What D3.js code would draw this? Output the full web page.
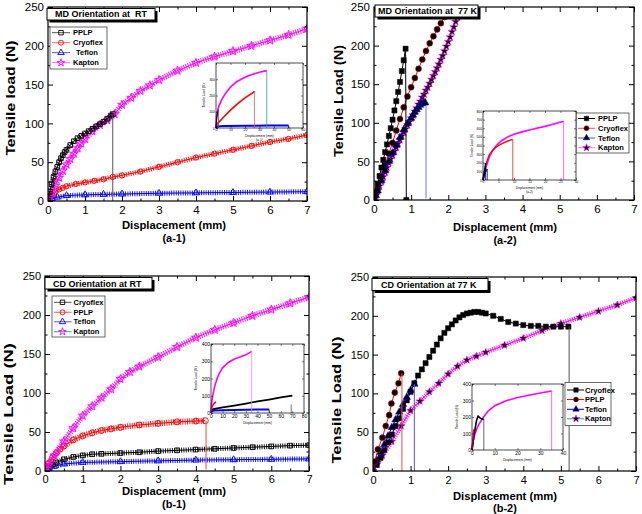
<!DOCTYPE html>
<html><head><meta charset="utf-8">
<script src="https://cdn.jsdelivr.net/npm/d3@7"></script>
<style>body{margin:0;background:#fff}svg{display:block;font-family:Arial,"Liberation Sans",sans-serif}</style>
</head><body><svg id="c" width="642" height="514"></svg>
<script>
// ---------- DATA ----------
// Panel a-1 : MD orientation at RT
const a1PPLP=[[0,0],[0.05,12],[0.1,22],[0.15,31],[0.2,38],[0.25,44],[0.3,50],[0.35,55],[0.4,59],[0.45,63],[0.5,66],[0.6,72],[0.7,77],[0.8,81],[0.9,84],[1.0,87],[1.1,90],[1.2,93],[1.3,96],[1.4,99],[1.5,102],[1.6,106],[1.7,110],[1.75,112]];
const a1Cryoflex=[[0,0],[0.05,4],[0.1,8],[0.2,12],[0.3,15],[0.4,17],[0.5,19],[0.75,22],[1,24],[1.25,26],[1.5,28],[1.75,31],[2,33],[2.5,38],[3,44],[3.5,50],[4,56],[4.5,61],[5,66],[5.5,71],[6,76],[6.5,80],[7,85]];
const a1Teflon=[[0,0],[0.1,3],[0.25,5],[0.5,7],[1,8],[1.5,8.5],[2,9],[3,10],[4,10.5],[5,11],[6,11.5],[7,12]];
const a1Kapton=[[0,0],[0.1,10],[0.2,20],[0.3,30],[0.4,39],[0.5,47],[0.6,54],[0.7,61],[0.8,68],[0.9,74],[1.0,80],[1.2,90],[1.4,98],[1.6,104],[1.8,112],[2.0,124],[2.25,133],[2.5,142],[2.75,149],[3.0,156],[3.5,168],[4.0,178],[4.5,186],[5.0,193],[5.5,200],[6.0,207],[6.5,214],[7.0,222]];
const a1InPPLP=[[0,0],[0.5,60],[1,88],[1.75,112]];
const a1InCryoflex=[[0,0],[0.5,20],[1,28],[3,45],[5,65],[10,110],[15,150],[20,185],[25,215],[26.5,226]];
const a1InTeflon=[[0,0],[1,10],[5,13],[20,14],[35,15],[50,16]];
const a1InKapton=[[0,0],[0.5,80],[1,105],[2,135],[4,175],[6,205],[8,230],[10,252],[14,283],[18,303],[22,320],[26,332],[30,343],[35,353]];
// Panel a-2 : MD orientation at 77 K
const a2PPLP=[[0,0],[0.05,10],[0.1,21],[0.15,31],[0.2,42],[0.25,52],[0.3,62],[0.35,72],[0.4,83],[0.45,93],[0.5,104],[0.55,116],[0.6,128],[0.65,140],[0.7,153],[0.75,167],[0.8,181],[0.85,196],[0.87,0]];
const a2Cryoflex=[[0,0],[0.1,15],[0.2,30],[0.3,45],[0.4,60],[0.5,74],[0.6,90],[0.7,105],[0.8,120],[0.9,134],[1.0,146],[1.1,158],[1.2,170],[1.3,182],[1.4,193],[1.5,203],[1.6,212],[1.7,221],[1.8,229],[1.9,237],[2.0,245],[2.1,253]];
const a2Teflon=[[0,0],[0.05,6],[0.1,12],[0.2,25],[0.3,38],[0.4,50],[0.5,61],[0.6,71],[0.7,81],[0.8,91],[0.9,99],[1.0,106],[1.05,110],[1.1,114],[1.15,117],[1.2,120],[1.25,123],[1.3,125],[1.35,126],[1.38,126]];
const a2Kapton=[[0,0],[0.05,6],[0.1,12],[0.15,18],[0.2,24],[0.25,30],[0.3,36],[0.35,42],[0.4,48],[0.45,53],[0.5,58],[0.55,63],[0.6,68],[0.65,73],[0.7,78],[0.75,83],[0.8,88],[0.85,92],[0.9,97],[0.95,101],[1.0,106],[1.05,110],[1.1,115],[1.15,119],[1.2,124],[1.25,128],[1.3,133],[1.35,137],[1.4,142],[1.45,146],[1.5,151],[1.55,156],[1.6,161],[1.65,166],[1.7,171],[1.75,176],[1.8,182],[1.85,187],[1.9,193],[1.95,199],[2.0,205],[2.05,211],[2.1,218],[2.15,224],[2.2,231],[2.25,237],[2.3,244],[2.4,257]];
const a2InPPLP=[[0,0],[0.4,80],[0.85,196]];
const a2InCryoflex=[[0,0],[0.5,110],[1,190],[2,290],[3,340],[4,375],[5,400],[6,420],[7,437],[8,452],[9,465],[9.6,470]];
const a2InTeflon=[[0,0],[0.5,60],[1,108],[1.38,126]];
const a2InKapton=[[0,0],[0.5,80],[1,150],[2,265],[3,335],[4,385],[5,425],[6,455],[8,500],[10,530],[12,552],[15,580],[18,605],[20,622],[22,640],[24,660],[26,680]];
// Panel b-1 : CD orientation at RT
const b1Cryoflex=[[0,0],[0.1,5],[0.2,8],[0.3,11],[0.5,15],[0.75,18],[1,20],[1.25,21.5],[1.5,22],[2,23],[2.5,24],[3,25.5],[3.5,26.5],[4,27.5],[4.5,28.5],[5,29.5],[5.5,30.5],[6,31.5],[6.5,32.5],[7,33]];
const b1PPLP=[[0,0],[0.1,10],[0.2,17],[0.3,23],[0.4,28],[0.5,32],[0.75,40],[1,45],[1.25,49],[1.5,52],[1.75,54],[2,56],[2.5,59],[3,61],[3.5,63],[4,64],[4.25,64.5]];
const b1Teflon=[[0,0],[0.1,3],[0.25,6],[0.5,9],[1,11],[2,12],[3,13],[4,14],[5,14.5],[6,15],[7,15.5]];
const b1Kapton=[[0,0],[0.1,8],[0.25,20],[0.5,38],[0.75,55],[1,71],[1.25,83],[1.5,94],[1.75,105],[2,118],[2.25,127],[2.5,134],[3,146],[3.5,159],[4,171],[4.5,181],[5,190],[5.5,199],[6,207],[6.5,215],[7,223]];
const b1InCryoflex=[[0,0],[0.5,12],[1,18],[2,22],[10,32],[20,43],[30,55],[40,67],[50,78],[60,90],[70,101]];
const b1InPPLP=[[0,0],[0.5,25],[1,38],[2,50],[3,58],[4.25,64]];
const b1InTeflon=[[0,0],[0.5,8],[1,11],[3,14],[10,16],[30,19],[50,21]];
const b1InKapton=[[0,0],[0.5,55],[1,80],[2,117],[3,150],[5,196],[7,228],[10,262],[15,293],[20,313],[25,325],[30,337],[35,357]];
// Panel b-2 : CD orientation at 77 K
const b2Cryoflex=[[0,0],[0.1,8],[0.2,17],[0.3,27],[0.4,37],[0.5,47],[0.6,58],[0.7,68],[0.8,80],[0.9,91],[1.0,102],[1.1,113],[1.2,123],[1.3,131],[1.4,139],[1.5,147],[1.6,155],[1.7,163],[1.8,171],[1.9,178],[2.0,184],[2.1,189],[2.2,194],[2.3,198],[2.4,201],[2.5,203],[2.6,204],[2.7,205],[2.8,205],[2.9,204],[3.0,203],[3.2,200],[3.4,196],[3.6,192],[3.8,190],[4.0,188],[4.2,187],[4.4,187],[4.6,186],[4.8,186],[5.0,186],[5.2,186]];
const b2PPLP=[[0,0],[0.05,12],[0.13,28],[0.25,43],[0.34,58],[0.43,72],[0.49,87],[0.58,101],[0.68,113],[0.75,126]];
const b2Teflon=[[0,0],[0.05,8],[0.1,14],[0.2,24],[0.3,34],[0.4,45],[0.5,56],[0.6,66],[0.7,76],[0.8,86],[0.9,95],[1.0,104],[1.1,112]];
const b2Kapton=[[0,0],[0.1,8],[0.25,20],[0.5,38],[0.75,58],[1,78],[1.25,90],[1.5,102],[1.75,113],[2,125],[2.25,135],[2.5,143],[2.75,148],[3,153],[3.5,162],[4,171],[4.5,181],[5,190],[5.5,198],[6,206],[6.5,214],[7,223]];
const b2InCryoflex=[[0,0],[0.5,50],[1,100],[1.5,140],[2,180],[2.7,205],[3.5,195],[4.5,187],[5.2,186]];
const b2InPPLP=[[0,0],[0.75,126]];
const b2InTeflon=[[0,0],[1.1,112]];
const b2InKapton=[[0,0],[0.3,40],[0.6,60],[1,85],[2,125],[3,155],[5,198],[7,235],[10,268],[15,298],[20,318],[25,332],[30,345],[35,358]];
// ticks
const mainXTicks=[0,1,2,3,4,5,6,7];
const mainXMinor=[0.5,1.5,2.5,3.5,4.5,5.5,6.5];
const mainYTicks=[0,50,100,150,200,250];
const mainYMinor=[25,75,125,175,225];
const titles=["MD Orientation at  RT","MD Orientation at  77 K","CD Orientation at RT","CD Orientation at 77 K"];
const subLabels=["(a-1)","(a-2)","(b-1)","(b-2)"];

// ---------- DRAWING ----------
const svg=d3.select("#c");
const FONT='Arial, "Liberation Sans", sans-serif';
const RED="#ff0000",BLUE="#0000ff",MAG="#ff00ff",BLK="#000000";
const SYM={square:d3.symbolSquare,circle:d3.symbolCircle,triangle:d3.symbolTriangle,star:d3.symbolStar};
const SZ={square:22,circle:22,triangle:20,star:20};

function styleAxis(s,fs,tw){
  s.select(".domain").remove();
  s.attr("font-family",FONT).attr("font-size",fs);
  s.selectAll("line").attr("stroke","#000").attr("stroke-width",tw);
  s.selectAll("text").attr("fill","#000");
}
function frameAxes(g,x,y,c,o){
  const add=(tr,ax)=>g.append("g").attr("transform",tr).call(ax).call(s=>styleAxis(s,o.fs,o.tw));
  add(`translate(0,${c.B})`,d3.axisBottom(x).tickValues(o.xt).tickSize(-o.maj).tickPadding(o.xpad).tickFormat(d3.format("d")));
  add(`translate(0,${c.T})`,d3.axisTop(x).tickValues(o.xt).tickSize(-o.maj).tickFormat(""));
  add(`translate(${c.L},0)`,d3.axisLeft(y).tickValues(o.yt).tickSize(-o.maj).tickPadding(o.ypad).tickFormat(d3.format("d")));
  add(`translate(${c.R},0)`,d3.axisRight(y).tickValues(o.yt).tickSize(-o.maj).tickFormat(""));
  if(o.xm){
    add(`translate(0,${c.B})`,d3.axisBottom(x).tickValues(o.xm).tickSize(-o.min).tickFormat(""));
    add(`translate(0,${c.T})`,d3.axisTop(x).tickValues(o.xm).tickSize(-o.min).tickFormat(""));
  }
  if(o.ym){
    add(`translate(${c.L},0)`,d3.axisLeft(y).tickValues(o.ym).tickSize(-o.min).tickFormat(""));
    add(`translate(${c.R},0)`,d3.axisRight(y).tickValues(o.ym).tickSize(-o.min).tickFormat(""));
  }
  g.append("rect").attr("x",c.L).attr("y",c.T).attr("width",c.R-c.L).attr("height",c.B-c.T)
    .attr("fill","none").attr("stroke","#000").attr("stroke-width",o.fw);
}
function marker(sel,s,open,sw,scale){
  sel.attr("d",d3.symbol(SYM[s],SZ[s]*(scale||1))())
    .attr("fill",open?"none":null).attr("stroke-width",sw||0.9);
}

function drawMain(c){
  const g=svg.append("g");
  const x=d3.scaleLinear().domain([0,7]).range([c.L,c.R]);
  const y=d3.scaleLinear().domain([0,250]).range([c.B,c.T]);
  const cid="clip-"+c.id;
  svg.append("clipPath").attr("id",cid).append("rect").attr("x",c.L).attr("y",c.T-1).attr("width",c.R-c.L).attr("height",c.B-c.T+1);
  const pg=g.append("g").attr("clip-path",`url(#${cid})`);
  const line=d3.line().x(d=>x(d[0])).y(d=>y(d[1]));
  c.series.forEach(s=>{
    const sg=pg.append("g");
    if(s.band){
      sg.append("path").attr("d",line(s.data)).attr("fill","none").attr("stroke",s.color)
        .attr("stroke-width",s.band).attr("stroke-dasharray","1,1.3").attr("opacity",0.9);
    }
    sg.append("path").attr("d",line(s.data)).attr("fill","none").attr("stroke",s.color).attr("stroke-width",1);
    sg.selectAll("path.m").data(s.data).join("path").attr("class","m")
      .attr("transform",d=>`translate(${x(d[0])},${y(d[1])})`)
      .attr("stroke",s.color).attr("fill",s.color)
      .call(sel=>marker(sel,s.sym,s.open,s.open?0.9:0.5,s.ms));
  });
  c.drops.forEach(d=>{
    pg.append("line").attr("x1",x(d.x)).attr("x2",x(d.x)).attr("y1",y(d.y0)).attr("y2",y(d.y1))
      .attr("stroke",d.color).attr("stroke-width",1);
  });
  frameAxes(g,x,y,c,{xt:mainXTicks,xm:mainXMinor,yt:mainYTicks,ym:mainYMinor,maj:5,min:2.5,fs:c.fs,tw:1,fw:1.2,xpad:c.xpad,ypad:4});
  // axis titles
  g.append("text").attr("x",c.xlx).attr("y",c.xly).attr("text-anchor","middle").attr("font-weight","bold")
    .attr("font-size",11.3).attr("font-family",FONT).text("Displacement (mm)");
  g.append("text").attr("x",c.xlx).attr("y",c.subY).attr("text-anchor","middle").attr("font-weight","bold")
    .attr("font-size",11).attr("font-family",FONT).text(c.sub);
  g.append("text").attr("transform",`translate(${c.ylx},${c.yly}) rotate(-90)`).attr("dy","0.36em")
    .attr("text-anchor","middle").attr("font-weight","bold").attr("font-size",13).attr("font-family",FONT)
    .attr("textLength",c.ylen).attr("lengthAdjust","spacingAndGlyphs").text(c.ylabel);
  // inset
  drawInset(c.inset);
  // title box
  const t=c.tbox;
  g.append("rect").attr("x",t.x+2.5).attr("y",t.y+2.5).attr("width",t.w).attr("height",t.h).attr("fill","#000");
  g.append("rect").attr("x",t.x).attr("y",t.y).attr("width",t.w).attr("height",t.h).attr("fill","#fff").attr("stroke","#000").attr("stroke-width",1);
  g.append("text").attr("x",t.tx).attr("y",t.ty).attr("font-weight","bold").attr("font-size",9).attr("font-family",FONT)
    .attr("xml:space","preserve").text(c.title);
  // legend
  const L=c.legend;
  const lg=g.append("g");
  lg.append("rect").attr("x",L.x).attr("y",L.y).attr("width",L.w).attr("height",L.h).attr("fill","#fff").attr("stroke","#444").attr("stroke-width",0.8);
  L.items.forEach((it,i)=>{
    const yy=L.rows[i];
    lg.append("line").attr("x1",L.lx0).attr("x2",L.lx1).attr("y1",yy).attr("y2",yy).attr("stroke",it.lineColor||it.color).attr("stroke-width",1);
    lg.append("path").attr("transform",`translate(${L.mx},${yy})`).attr("stroke",it.color).attr("fill",it.color)
      .call(sel=>marker(sel,it.sym,it.open,it.open?0.9:0.5,0.9));
    lg.append("text").attr("x",L.tx+(it.dx||0)).attr("y",yy).attr("dy","0.35em").attr("font-weight","bold")
      .attr("font-size",7.5).attr("font-family",FONT).text(it.name);
  });
}

function drawInset(c){
  const g=svg.append("g");
  g.append("rect").attr("x",c.L).attr("y",c.T).attr("width",c.R-c.L).attr("height",c.B-c.T).attr("fill","#fff");
  const x=d3.scaleLinear().domain(c.xd).range([c.L,c.R]);
  const y=d3.scaleLinear().domain(c.yd).range([c.B,c.T]);
  const line=d3.line().x(d=>x(d[0])).y(d=>y(d[1]));
  c.series.forEach(s=>{
    g.append("path").attr("d",line(s.data)).attr("fill","none").attr("stroke",s.color).attr("stroke-width",s.w||1.4);
  });
  c.drops.forEach(d=>{
    g.append("line").attr("x1",x(d.x)).attr("x2",x(d.x)).attr("y1",y(d.y0)).attr("y2",y(d.y1))
      .attr("stroke",d.color).attr("stroke-width",0.8);
  });
  frameAxes(g,x,y,c,{xt:c.xt,yt:c.yt,maj:2,min:1,fs:c.fs,tw:0.5,fw:0.7,xpad:1,ypad:1});
  g.append("text").attr("x",(c.L+c.R)/2).attr("y",c.B+c.fs+c.lf+2.5).attr("text-anchor","middle")
    .attr("font-size",c.lf).attr("font-family",FONT).text("Displacement (mm)");
  if(c.sub) g.append("text").attr("x",(c.L+c.R)/2).attr("y",c.B+c.fs+2*c.lf+3).attr("text-anchor","middle")
    .attr("font-size",c.lf).attr("font-family",FONT).text(c.sub);
  g.append("text").attr("transform",`translate(${c.L-c.fs*2.2-3},${(c.T+c.B)/2}) rotate(-90)`).attr("text-anchor","middle")
    .attr("font-size",c.lf).attr("font-family",FONT).text("Tensile Load (N)");
}

// ---------- PANELS ----------
drawMain({id:"a1",L:48,R:307,T:7,B:201,fs:11.5,xpad:5,title:titles[0],sub:subLabels[0],
  xlx:174,xly:229,subY:242,ylx:10,yly:98,ylen:115,ylabel:"Tensile load (N)",
  tbox:{x:47,y:8.5,w:108,h:11.5,tx:55,ty:17.3},
  series:[
    {data:a1Teflon,color:BLUE,sym:"triangle",open:true,band:5},
    {data:a1Cryoflex,color:RED,sym:"circle",open:true,band:5},
    {data:a1Kapton,color:MAG,sym:"star",open:true,band:6,ms:1.2},
    {data:a1PPLP,color:BLK,sym:"square",open:true,band:5}],
  drops:[{x:1.75,y0:112,y1:0,color:"#555"}],
  legend:{x:50,y:27,w:57,h:42,rows:[32.7,42.7,52.7,62.7],lx0:52,lx1:70,mx:61,tx:73,
    items:[{name:"PPLP",color:BLK,lineColor:"#555",sym:"square",open:true},
           {name:"Cryoflex",color:RED,lineColor:"#ff6060",sym:"circle",open:true},
           {name:"Teflon",color:BLUE,lineColor:"#5050ff",sym:"triangle",open:true,dx:3},
           {name:"Kapton",color:MAG,lineColor:"#ff60ff",sym:"star",open:true}]},
  inset:{L:216,R:303,T:63,B:128,xd:[0,60],yd:[0,400],xt:[0,10,20,30,40,50,60],yt:[0,100,200,300],fs:3.5,lf:3.3,sub:"(a-1)",
    series:[{data:a1InTeflon,color:BLUE,w:2},{data:a1InCryoflex,color:RED,w:1.6},{data:a1InKapton,color:MAG,w:1.6},{data:a1InPPLP,color:BLK,w:1}],
    drops:[{x:26.5,y0:226,y1:0,color:"#ff5050"},{x:35,y0:353,y1:0,color:"#2a9aa6"},{x:50,y0:16,y1:0,color:BLUE},{x:1.75,y0:112,y1:0,color:"#555"}]}
});

drawMain({id:"a2",L:374,R:634,T:7,B:200,fs:11.5,xpad:5,title:titles[1],sub:subLabels[1],
  xlx:505,xly:231,subY:244,ylx:338,yly:101,ylen:112,ylabel:"Tensile Load (N)",
  tbox:{x:375,y:5,w:103,h:12,tx:378,ty:14.3},
  series:[
    {data:a2Kapton,color:MAG,sym:"star",open:false,ms:1},
    {data:a2Cryoflex,color:RED,sym:"circle",open:false,ms:1.3},
    {data:a2Teflon,color:BLUE,sym:"triangle",open:false,ms:1.2},
    {data:a2PPLP,color:BLK,sym:"square",open:false,ms:1.2}],
  drops:[{x:1.4,y0:122,y1:2,color:"#7070ff"}],
  legend:{x:576,y:113,w:53,h:40,rows:[118.5,128.3,138,147.7],lx0:578,lx1:595,mx:586.5,tx:598,
    items:[{name:"PPLP",color:BLK,sym:"square"},
           {name:"Cryoflex",color:RED,lineColor:"#ff5050",sym:"circle"},
           {name:"Teflon",color:BLUE,lineColor:"#5050ff",sym:"triangle"},
           {name:"Kapton",color:MAG,lineColor:"#ff70ff",sym:"star"}]},
  inset:{L:483,R:576,T:111,B:180,xd:[0,30],yd:[0,800],xt:[0,5,10,15,20,25,30],yt:[0,100,200,300,400,500,600,700,800],fs:3.3,lf:3.2,sub:"(a-2)",
    series:[{data:a2InKapton,color:MAG,w:1.6},{data:a2InCryoflex,color:RED,w:1.4},{data:a2InTeflon,color:BLUE,w:1.4},{data:a2InPPLP,color:BLK,w:1.4}],
    drops:[{x:9.6,y0:470,y1:0,color:"#ff2020"},{x:26,y0:680,y1:0,color:"#ff40ff"},{x:0.85,y0:196,y1:0,color:BLK},{x:1.38,y0:126,y1:0,color:BLUE}]}
});

drawMain({id:"b1",L:45,R:309,T:276,B:471,fs:11,xpad:4,title:titles[2],sub:subLabels[2],
  xlx:174,xly:495,subY:508,ylx:8,yly:414,ylen:142,ylabel:"Tensile Load (N)",
  tbox:{x:45,y:277.5,w:107,h:11.5,tx:53,ty:286.5},
  series:[
    {data:b1Teflon,color:BLUE,sym:"triangle",open:true,band:5},
    {data:b1Cryoflex,color:BLK,sym:"square",open:true,band:5},
    {data:b1PPLP,color:RED,sym:"circle",open:true,band:6,ms:1.3},
    {data:b1Kapton,color:MAG,sym:"star",open:true,band:6,ms:1.2}],
  drops:[{x:4.27,y0:64,y1:2,color:"#ff4040"}],
  legend:{x:52,y:296,w:53,h:41,rows:[302.3,312.3,321.8,331.7],lx0:54,lx1:71.5,mx:62.5,tx:73.5,
    items:[{name:"Cryoflex",color:BLK,lineColor:"#555",sym:"square",open:true},
           {name:"PPLP",color:RED,lineColor:"#ff6060",sym:"circle",open:true},
           {name:"Teflon",color:BLUE,lineColor:"#5050ff",sym:"triangle",open:true},
           {name:"Kapton",color:MAG,lineColor:"#30a0a0",sym:"star",open:true}]},
  inset:{L:211,R:304,T:344,B:413,xd:[0,80],yd:[0,400],xt:[0,10,20,30,40,50,60,70,80],yt:[0,100,200,300,400],fs:5,lf:3.3,
    series:[{data:b1InTeflon,color:BLUE,w:2},{data:b1InCryoflex,color:BLK,w:1.8},{data:b1InPPLP,color:RED,w:1.6},{data:b1InKapton,color:MAG,w:1.6}],
    drops:[{x:35,y0:357,y1:0,color:"#ff80ff"},{x:50,y0:21,y1:0,color:BLUE},{x:69,y0:50,y1:0,color:"#555"}]}
});

drawMain({id:"b2",L:373,R:636,T:277,B:471,fs:11,xpad:5,title:titles[3],sub:subLabels[3],
  xlx:505,xly:500,subY:511.5,ylx:336,yly:400,ylen:127,ylabel:"Tensile Load (N)",
  tbox:{x:372,y:278.5,w:116,h:12,tx:381,ty:287.7},
  series:[
    {data:b2Kapton,color:MAG,sym:"star",open:false,band:5,ms:0.9},
    {data:b2Cryoflex,color:BLK,sym:"square",open:false,ms:1.2},
    {data:b2Teflon,color:BLUE,sym:"triangle",open:false,ms:1.2},
    {data:b2PPLP,color:RED,sym:"circle",open:false,ms:1.3}],
  drops:[{x:0.77,y0:126,y1:0,color:"#ff4040"},{x:1.1,y0:112,y1:0,color:"#5050ff"},{x:5.22,y0:186,y1:0,color:"#555"}],
  legend:{x:565,y:382.5,w:46,h:43,rows:[390,399.5,409.3,418.8],lx0:567,lx1:584,mx:576,tx:585,
    items:[{name:"Cryoflex",color:BLK,sym:"square"},
           {name:"PPLP",color:RED,sym:"circle"},
           {name:"Teflon",color:BLUE,sym:"triangle"},
           {name:"Kapton",color:MAG,lineColor:"#30a0a0",sym:"star"}]},
  inset:{L:472,R:563,T:384,B:450,xd:[0,40],yd:[0,400],xt:[0,10,20,30,40],yt:[0,100,200,300,400],fs:5,lf:3.3,
    series:[{data:b2InKapton,color:MAG,w:1.6},{data:b2InCryoflex,color:BLK,w:1.6},{data:b2InTeflon,color:BLUE,w:1.4},{data:b2InPPLP,color:RED,w:1.4}],
    drops:[{x:35,y0:358,y1:0,color:"#ff40ff"},{x:5.2,y0:186,y1:0,color:"#444"}]}
});
</script></body></html>
